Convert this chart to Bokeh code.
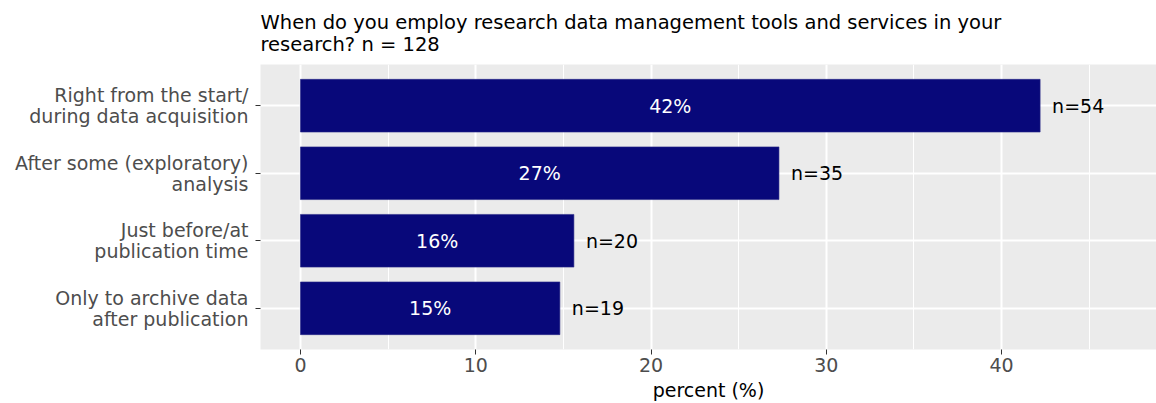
from bokeh.plotting import figure
from bokeh.models import ColumnDataSource, FixedTicker, Range1d, Title
from bokeh.embed import file_html
from bokeh.resources import INLINE

categories = ["Right from the start/\nduring data acquisition",
              "After some (exploratory)\nanalysis",
              "Just before/at\npublication time",
              "Only to archive data\nafter publication"]
percents = [42.2, 27.3, 15.6, 14.8]
counts = [54, 35, 20, 19]
pct_labels = ["42%", "27%", "16%", "15%"]
x_ticks = [0, 10, 20, 30, 40]
x_minor = [5, 15, 25, 35, 45]
title_text = "When do you employ research data management tools and services in your\nresearch? n = 128"

FONT = "DejaVu Sans"
FS = "19px"
n = len(categories)
ypos = [n - i for i in range(n)]

src = ColumnDataSource(dict(
    y=ypos, pct=percents, half=[v / 2 for v in percents],
    pl=pct_labels, nl=["n=%d" % c for c in counts]))

p = figure(width=1156, height=403, output_backend="svg", toolbar_location=None,
           x_range=Range1d(-2.28, 48.84), y_range=Range1d(0.39, 4.61),
           min_border_left=260, min_border_right=0, min_border_top=14,
           min_border_bottom=0)
p.background_fill_color = "#ebebeb"
p.border_fill_color = "white"
p.outline_line_color = None

p.hbar(y="y", left=0, right="pct", height=0.78, source=src,
       fill_color="#08087a", line_color="#2a2a88", line_width=0.6)
p.text(x="half", y="y", text="pl", source=src, text_color="white",
       text_align="center", text_baseline="middle",
       text_font_size=FS, text_font={"value": FONT})
p.text(x="pct", y="y", text="nl", source=src, text_color="black",
       text_align="left", text_baseline="middle", x_offset=12,
       text_font_size=FS, text_font={"value": FONT})

# axes
p.xaxis.ticker = FixedTicker(ticks=x_ticks, minor_ticks=x_minor)
p.yaxis.ticker = FixedTicker(ticks=ypos)
p.yaxis.major_label_overrides = {y: c for y, c in zip(ypos, categories)}
for ax in (p.xaxis[0], p.yaxis[0]):
    ax.axis_line_color = None
    ax.major_tick_line_color = "#333333"
    ax.major_tick_in = 0
    ax.major_tick_out = 5
    ax.minor_tick_line_color = None
    ax.major_label_text_font = FONT
    ax.major_label_text_font_size = FS
    ax.major_label_text_color = "#4d4d4d"
p.yaxis.major_label_text_line_height = 0.96
p.yaxis.major_label_standoff = 7
p.xaxis.major_label_standoff = 3
p.xaxis.axis_label = "percent (%)"
p.xaxis.axis_label_text_font = FONT
p.xaxis.axis_label_text_font_size = FS
p.xaxis.axis_label_text_font_style = "normal"
p.xaxis.axis_label_text_color = "black"
p.xaxis.axis_label_text_line_height = 0.8
p.xaxis.axis_label_standoff = 4

p.xgrid.grid_line_color = "white"
p.xgrid.grid_line_width = 2
p.xgrid.minor_grid_line_color = "white"
p.xgrid.minor_grid_line_width = 1
p.ygrid.grid_line_color = "white"
p.ygrid.grid_line_width = 2

t = Title(text=title_text, align="left", text_font=FONT,
          text_font_size="19.5px", text_font_style="normal", text_color="black",
          text_line_height=0.97, standoff=17)
p.add_layout(t, "above")

open("out.html", "w").write(file_html(p, INLINE))
